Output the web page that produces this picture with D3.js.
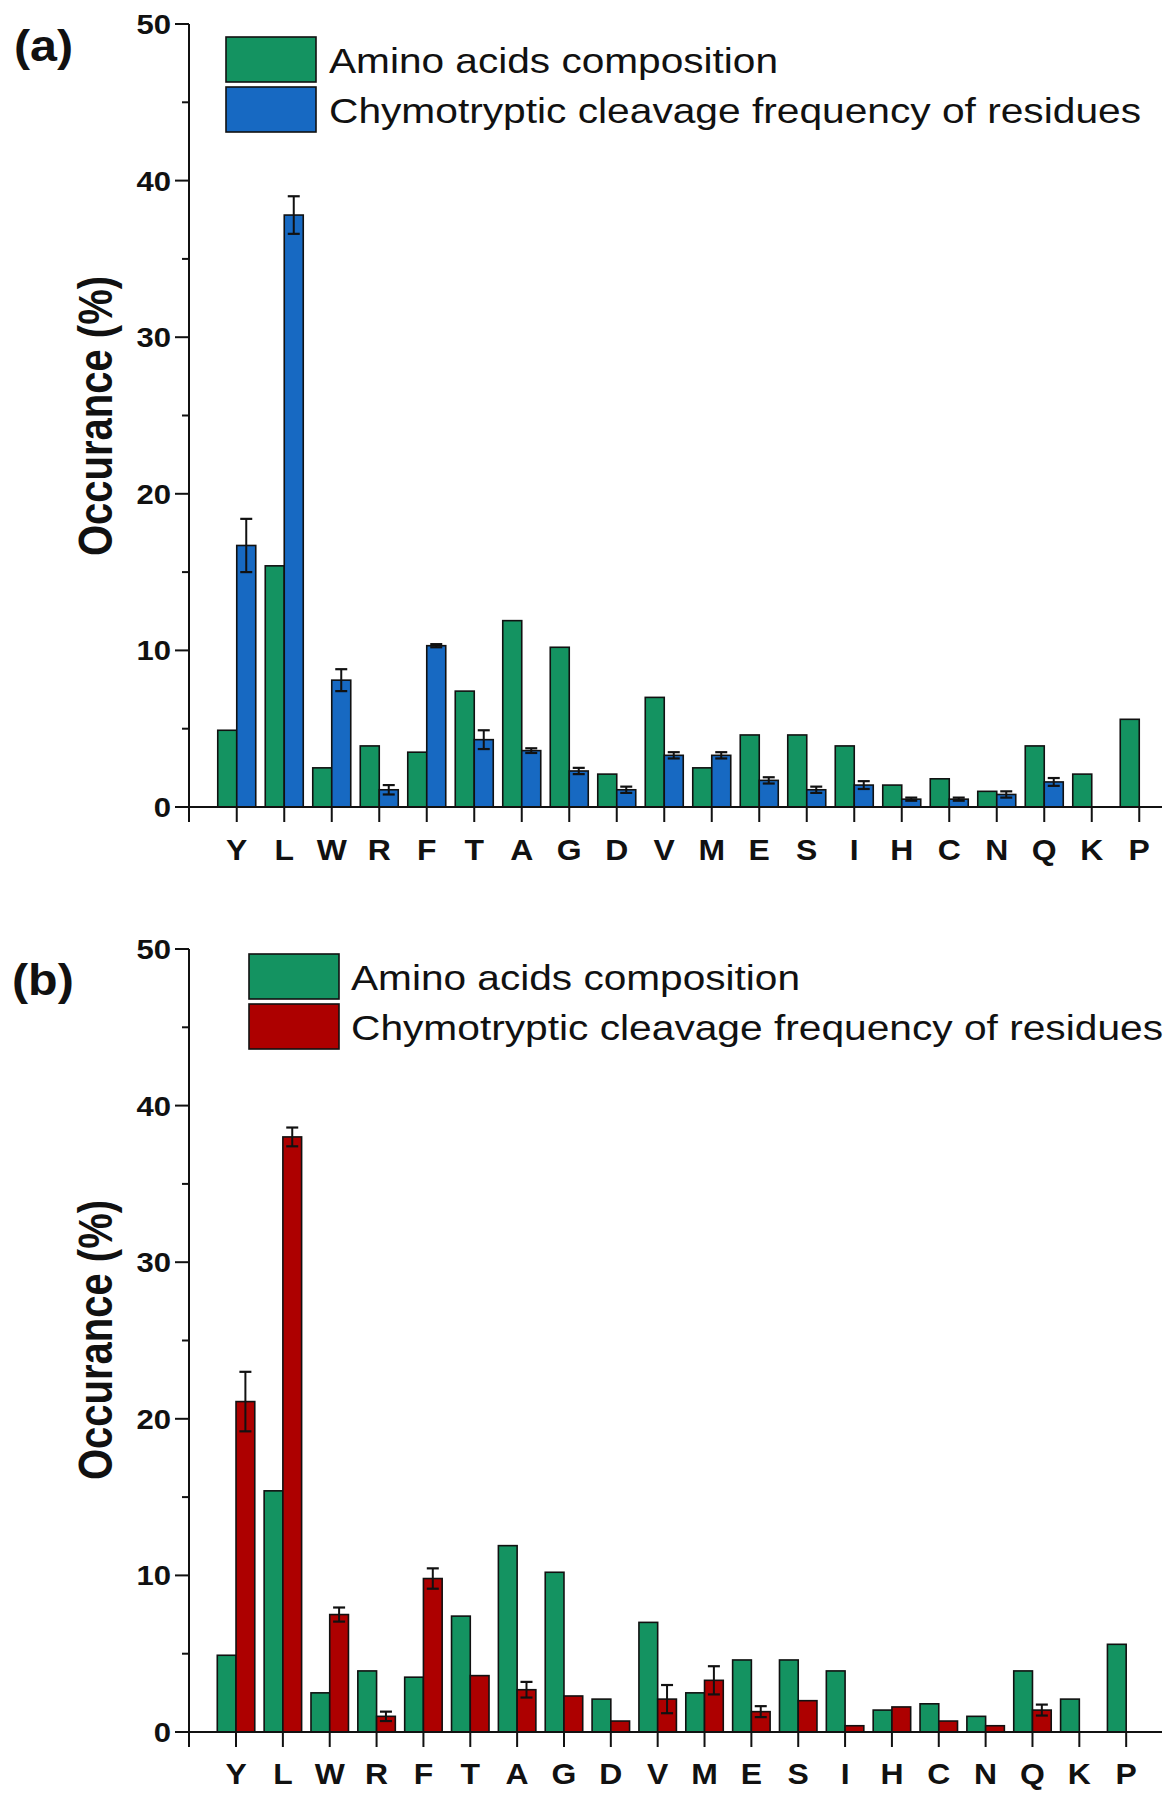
<!DOCTYPE html>
<html><head><meta charset="utf-8">
<script src="https://cdn.jsdelivr.net/npm/d3@7"></script>
<style>body{margin:0;background:#fff} svg{display:block}</style>
</head><body>
<svg id="chart" width="1175" height="1800"></svg>
<script>
// ---------- data ----------
const categories = ["Y","L","W","R","F","T","A","G","D","V","M","E","S","I","H","C","N","Q","K","P"];
const composition = [4.9,15.4,2.5,3.9,3.5,7.4,11.9,10.2,2.1,7.0,2.5,4.6,4.6,3.9,1.4,1.8,1.0,3.9,2.1,5.6];
const cleavageA = [16.7,37.8,8.1,1.1,10.3,4.3,3.6,2.3,1.1,3.3,3.3,1.7,1.1,1.4,0.5,0.5,0.8,1.6,0,0];
const errorA    = [1.7,1.2,0.7,0.3,0.1,0.6,0.15,0.2,0.2,0.2,0.2,0.2,0.2,0.25,0.1,0.1,0.2,0.25,0,0];
const cleavageB = [21.1,38.0,7.5,1.0,9.8,3.6,2.7,2.3,0.7,2.1,3.3,1.3,2.0,0.4,1.6,0.7,0.4,1.4,0,0];
const errorB    = [1.9,0.6,0.45,0.3,0.65,0,0.5,0,0,0.9,0.9,0.35,0,0,0,0,0,0.35,0,0];
const yTicks = [0,10,20,30,40,50];
const yMinorTicks = [5,15,25,35,45];
const seriesLabels = ["Amino acids composition","Chymotryptic cleavage frequency of residues"];
const panelLabels = ["(a)","(b)"];
const yTitle = "Occurance (%)";

// ---------- drawing ----------
const svg = d3.select("#chart");
const FONT = "'Liberation Sans', Arial, Helvetica, sans-serif";
const SX = 1.2; // horizontal stretch of the original figure's text
const GREEN = "#149361", BLUE = "#1769c2", RED = "#ad0000";

const panels = [
  {cleav: cleavageA, err: errorA, color: BLUE, label: panelLabels[0],
   yRange: [807, 24], xRange: [213, 1163], axisX: 189, axisEnd: 1162,
   labelPos: [14, 61], legX: 226, legY: 37, textX: 329, titleY: 416, xLabelY: 860},
  {cleav: cleavageB, err: errorB, color: RED, label: panelLabels[1],
   yRange: [1732, 949], xRange: [212.6, 1149.6], axisX: 189, axisEnd: 1162,
   labelPos: [12, 995], legX: 249, legY: 954, textX: 351, titleY: 1340, xLabelY: 1784}
];

function stretchedText(g, x, y, txt, size, weight, anchor, sx) {
  return g.append("text")
    .attr("transform", `translate(${x},${y}) scale(${sx || SX},1)`)
    .attr("text-anchor", anchor || "start")
    .attr("font-family", FONT).attr("font-size", size).attr("font-weight", weight || "normal")
    .attr("fill", "#111").text(txt);
}

panels.forEach(p => {
  const g = svg.append("g");
  const y = d3.scaleLinear().domain([0, 50]).range(p.yRange);
  const x = d3.scaleBand().domain(categories).range(p.xRange).padding(0);
  const step = x.step();
  const bw = step * 0.4;
  const cx = c => x(c) + x.bandwidth() / 2;

  // bars: composition (left), cleavage (right)
  g.selectAll("rect.comp").data(categories).join("rect")
    .attr("x", c => cx(c) - bw).attr("width", bw)
    .attr("y", (c, i) => y(composition[i])).attr("height", (c, i) => y(0) - y(composition[i]))
    .attr("fill", GREEN).attr("stroke", "#111").attr("stroke-width", 1.6);

  const cl = categories.map((c, i) => ({c, v: p.cleav[i], e: p.err[i]})).filter(d => d.v > 0);
  g.selectAll("rect.clv").data(cl).join("rect")
    .attr("x", d => cx(d.c)).attr("width", bw)
    .attr("y", d => y(d.v)).attr("height", d => y(0) - y(d.v))
    .attr("fill", p.color).attr("stroke", "#111").attr("stroke-width", 1.6);

  // error bars
  const eb = cl.filter(d => d.e > 0);
  const capW = 6;
  eb.forEach(d => {
    const xc = cx(d.c) + bw / 2;
    const y1 = y(d.v + d.e), y0 = y(d.v - d.e);
    g.append("line").attr("x1", xc).attr("x2", xc).attr("y1", y1).attr("y2", y0)
      .attr("stroke", "#111").attr("stroke-width", 2);
    [y1, y0].forEach(yy => g.append("line").attr("x1", xc - capW).attr("x2", xc + capW)
      .attr("y1", yy).attr("y2", yy).attr("stroke", "#111").attr("stroke-width", 2.2));
  });

  // axes
  const axisG = g.append("g").attr("stroke", "#111").attr("stroke-width", 2);
  axisG.append("line").attr("x1", p.axisX).attr("x2", p.axisX).attr("y1", y(50)).attr("y2", y(0) + 15);
  axisG.append("line").attr("x1", p.axisX - 14).attr("x2", p.axisEnd).attr("y1", y(0)).attr("y2", y(0));
  yTicks.forEach(t => axisG.append("line").attr("x1", p.axisX - 14).attr("x2", p.axisX).attr("y1", y(t)).attr("y2", y(t)));
  yMinorTicks.forEach(t => axisG.append("line").attr("x1", p.axisX - 7).attr("x2", p.axisX).attr("y1", y(t)).attr("y2", y(t)));
  categories.forEach(c => axisG.append("line").attr("x1", cx(c)).attr("x2", cx(c)).attr("y1", y(0)).attr("y2", y(0) + 15));

  yTicks.forEach(t => stretchedText(g, p.axisX - 18, y(t) + 10, String(t), 27, "bold", "end", 1.15));
  categories.forEach(c => stretchedText(g, cx(c), p.xLabelY, c, 29, "bold", "middle", 1.1));

  // y title
  g.append("text")
    .attr("transform", `translate(112,${p.titleY}) scale(${SX},1) rotate(-90)`)
    .attr("text-anchor", "middle").attr("font-family", FONT).attr("font-size", 40)
    .attr("font-weight", "bold").attr("fill", "#111").text(yTitle);

  // panel label
  stretchedText(g, p.labelPos[0], p.labelPos[1], p.label, 44, "bold", "start", 1.1);

  // legend
  const legColors = [GREEN, p.color];
  legColors.forEach((col, i) => {
    g.append("rect").attr("x", p.legX).attr("y", p.legY + i * 50).attr("width", 90).attr("height", 45)
      .attr("fill", col).attr("stroke", "#111").attr("stroke-width", 1.6);
    g.append("text").attr("x", p.textX).attr("y", p.legY + i * 50 + 36)
      .attr("font-family", FONT).attr("font-size", 35).attr("fill", "#111")
      .attr("textLength", i === 0 ? 449 : 812).attr("lengthAdjust", "spacingAndGlyphs")
      .text(seriesLabels[i]);
  });
});
</script>
</body></html>
